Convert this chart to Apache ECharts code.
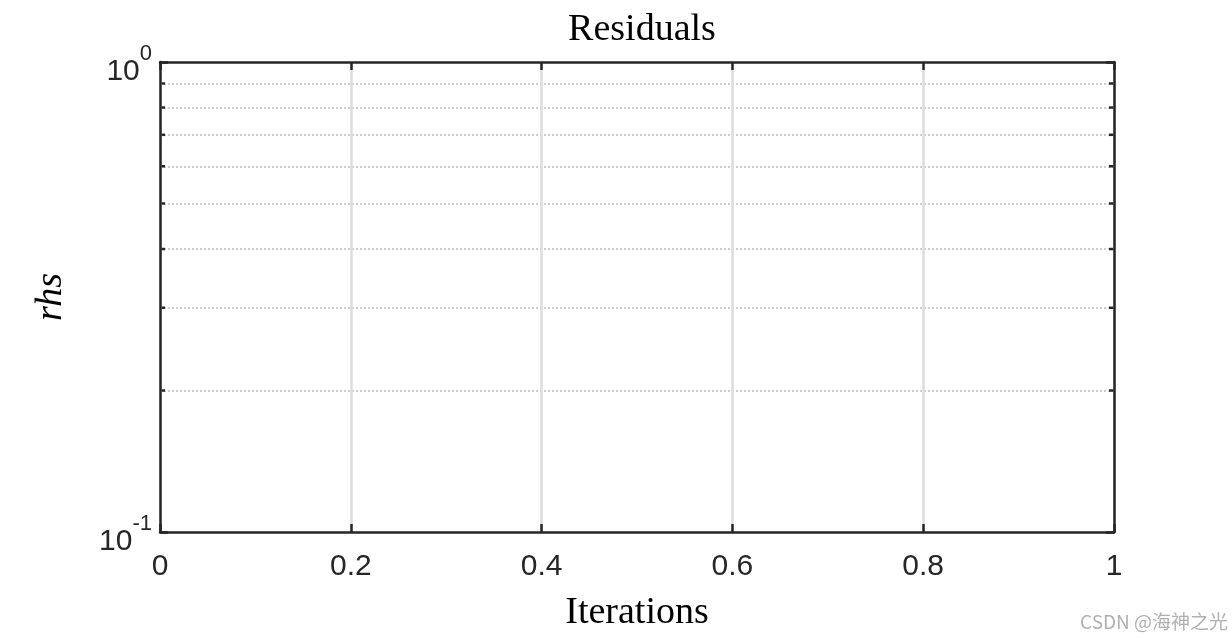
<!DOCTYPE html>
<html>
<head>
<meta charset="utf-8">
<script src="https://cdn.jsdelivr.net/npm/echarts@6/dist/echarts.min.js"></script>
<style>html,body{margin:0;padding:0;background:#fff}#c{width:1232px;height:639px}</style>
</head>
<body>
<div id="c"></div>
<script>
var xTicks = [0, 0.2, 0.4, 0.6, 0.8, 1];
var yRange = [0.1, 1];
var minorLevels = [0.2, 0.3, 0.4, 0.5, 0.6, 0.7, 0.8, 0.9];

var chart = echarts.init(document.getElementById('c'));
var ink = '#262626';
var tickFont = {fontFamily: 'Liberation Sans, Arial', fontSize: 30, color: ink};

function yLabel(v) {
  var e = Math.round(Math.log10(v));
  return '{b|10}{s|' + e + '}';
}

var axLine = {show: true, onZero: false, lineStyle: {color: ink, width: 2.5}};
var xBase = {
  type: 'value', min: xTicks[0], max: xTicks[xTicks.length - 1], interval: 0.2,
  axisLine: axLine, z: 10,
  axisTick: {show: true, inside: true, length: 8, lineStyle: {color: ink, width: 2.5}}
};
var yBase = {
  type: 'log', logBase: 10, min: yRange[0], max: yRange[1],
  axisLine: axLine, z: 10,
  axisTick: {show: true, inside: true, length: 8, lineStyle: {color: ink, width: 2.5}},
  splitLine: {show: false}
};

chart.setOption({
  animation: false,
  title: {
    text: 'Residuals', left: 637, top: 6, textAlign: 'center',
    textStyle: {fontFamily: 'Liberation Serif, DejaVu Serif', fontWeight: 'normal', fontSize: 38, color: '#000'}
  },
  grid: {left: 160, right: 118, top: 62, bottom: 107},
  xAxis: [
    Object.assign({}, xBase, {
      position: 'bottom',
      name: 'Iterations', nameLocation: 'middle', nameGap: 62,
      nameTextStyle: {fontFamily: 'Liberation Serif, DejaVu Serif', fontSize: 38, color: '#000'},
      axisLabel: Object.assign({margin: 20, formatter: function (v) { return String(v); }}, tickFont),
      splitLine: {show: true, lineStyle: {color: '#dcdcdc', width: 2.5}}
    }),
    Object.assign({}, xBase, {position: 'top', axisLabel: {show: false}, splitLine: {show: false}})
  ],
  yAxis: [
    Object.assign({}, yBase, {
      position: 'left',
      name: 'rhs', nameLocation: 'middle', nameGap: 90, nameRotate: 90,
      nameTextStyle: {fontFamily: 'Liberation Serif, DejaVu Serif', fontStyle: 'italic', fontSize: 38, color: '#000'},
      axisLabel: {
        margin: 8, formatter: yLabel,
        rich: {
          b: {fontFamily: 'Liberation Sans, Arial', fontSize: 30, color: ink, verticalAlign: 'bottom', padding: [0, 0, -6, 0]},
          s: {fontFamily: 'Liberation Sans, Arial', fontSize: 22, color: ink, verticalAlign: 'top', padding: [0, 0, 16, 0]}
        }
      }
    }),
    Object.assign({}, yBase, {position: 'right', axisLabel: {show: false}})
  ],
  series: [
    {
      type: 'line', xAxisIndex: 0, yAxisIndex: 0, data: [], silent: true,
      markLine: {
        symbol: 'none', silent: true, label: {show: false},
        lineStyle: {type: [2, 2], color: '#bdbdbd', width: 1.5},
        data: minorLevels.map(function (v) { return {yAxis: v}; })
      }
    },
    {
      type: 'custom', xAxisIndex: 0, yAxisIndex: 0, silent: true, z: 5,
      data: minorLevels.map(function (v) { return [0, v]; }),
      renderItem: function (params, api) {
        var left = api.coord([xTicks[0], api.value(1)]);
        var right = api.coord([xTicks[xTicks.length - 1], api.value(1)]);
        var st = {stroke: ink, lineWidth: 2.5};
        return {type: 'group', children: [
          {type: 'line', shape: {x1: left[0], y1: left[1], x2: left[0] + 5, y2: left[1]}, style: st},
          {type: 'line', shape: {x1: right[0] - 5, y1: right[1], x2: right[0], y2: right[1]}, style: st}
        ]};
      }
    }
  ],
  graphic: [{
    type: 'text', right: 4, bottom: 8,
    style: {text: 'CSDN @海神之光', fill: '#b0b0b0', fontSize: 19, fontFamily: 'Noto Sans CJK SC'}
  }]
});
</script>
</body>
</html>
